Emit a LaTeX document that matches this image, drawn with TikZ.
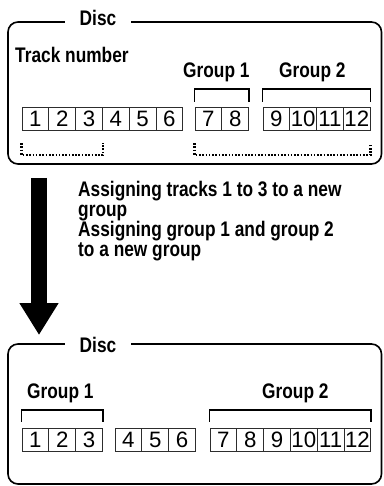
\documentclass[tikz,border=0pt]{standalone}
\usepackage{fontspec}
\setmainfont{Liberation Sans}
\newfontfamily\condfont[FakeStretch=0.82]{Liberation Sans}
\usetikzlibrary{arrows.meta}
\definecolor{trkLine}{RGB}{45,45,45}

\begin{document}
\begin{tikzpicture}[x=0.03cm, y=-0.03cm,
    cell/.style={draw=trkLine, line width=0.7pt, minimum width=0.804cm, minimum height=0.7cm,
                 inner sep=0pt, font=\fontsize{19}{19}\selectfont},
    lbl/.style={font=\condfont\bfseries\fontsize{18}{17}\selectfont, inner sep=0pt},
    title/.style={lbl, fill=white, inner xsep=0.45cm, inner ysep=1pt},
    txt/.style={lbl, align=left},
    disc/.style={draw, line width=1.4pt, rounded corners=0.3cm},
    bkt/.style={draw, line width=1.4pt},
    dotbkt/.style={draw, line width=2pt, dash pattern=on 1.4pt off 1.4pt},
    arr/.style={line width=0.48cm, -{Triangle[length=0.96cm, width=1.11cm]}}
  ]
  \useasboundingbox (0,0) rectangle (383,486);

  % disc before
  \draw[disc] (8,22) rectangle (381.5,164);
  \node[title, anchor=base] (disc1) at (98,26) {Disc};
  \node[lbl, anchor=base west] (trk) at (15,63) {Track number};
  \foreach \n in {1,...,6} {
    \node[cell] (a\n) at ({22+26.8*(\n-0.5)}, 119) {\n};
  }
  \foreach \n in {7,8} {
    \node[cell] (a\n) at ({195+26.8*(\n-6.5)}, 119) {\n};
  }
  \foreach \n in {9,...,12} {
    \node[cell] (a\n) at ({263+26.8*(\n-8.5)}, 119) {\n};
  }
  \node[lbl, anchor=base west] (ga1) at (183,78) {Group 1};
  \node[lbl, anchor=base west] (ga2) at (279,78) {Group 2};
  \draw[bkt] ([yshift=0.15cm]a7.north west) -- ++(0,-13) -| ([yshift=0.15cm]a8.north east);
  \draw[bkt] ([yshift=0.15cm]a9.north west) -- ++(0,-13) -| ([yshift=0.15cm]a12.north east);
  \draw[dotbkt] ([yshift=-0.36cm]a1.south west) -- ++(0,12) -| ([yshift=-0.36cm]a3.south east);
  \draw[dotbkt] ([yshift=-0.36cm]a7.south west) -- ++(0,12) -| ([yshift=-0.36cm]a12.south east);

  % arrow and what it does
  \coordinate (arrtop) at (39,178);
  \coordinate (arrtip) at (39,335);
  \draw[arr] (arrtop) -- (arrtip);
  \node[txt, anchor=north west] (note) at (78,181)
       {Assigning tracks 1 to 3 to a new\\group\\Assigning group 1 and group 2\\to a new group};

  % disc after
  \draw[disc] (8,344) rectangle (381.5,484);
  \node[title, anchor=base] (disc2) at (98,352) {Disc};
  \foreach \n in {1,2,3} {
    \node[cell] (b\n) at ({22+26.8*(\n-0.5)}, 440) {\n};
  }
  \foreach \n in {4,5,6} {
    \node[cell] (b\n) at ({115+26.8*(\n-3.5)}, 440) {\n};
  }
  \foreach \n in {7,...,12} {
    \node[cell] (b\n) at ({210+26.8*(\n-6.5)}, 440) {\n};
  }
  \node[lbl, anchor=base west] (gb1) at (27,398) {Group 1};
  \node[lbl, anchor=base west] (gb2) at (262,398) {Group 2};
  \draw[bkt] ([yshift=0.18cm]b1.north west) -- ++(0,-12) -| ([yshift=0.18cm]b3.north east);
  \draw[bkt] ([yshift=0.18cm]b7.north west) -- ++(0,-12) -| ([yshift=0.18cm]b12.north east);
\end{tikzpicture}
\end{document}
